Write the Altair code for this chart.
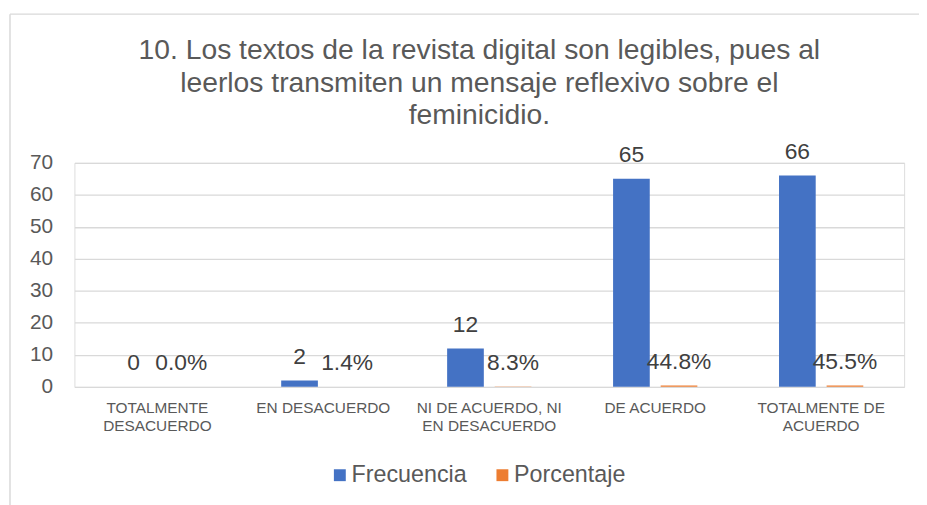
import altair as alt
import pandas as pd

categories = [
    "TOTALMENTE\nDESACUERDO",
    "EN DESACUERDO",
    "NI DE ACUERDO, NI\nEN DESACUERDO",
    "DE ACUERDO",
    "TOTALMENTE DE\nACUERDO",
]
series = ["Frecuencia", "Porcentaje"]
frecuencia = [0, 2, 12, 65, 66]
porcentaje = [0.0, 0.014, 0.083, 0.448, 0.455]

rows = []
for c, f, p in zip(categories, frecuencia, porcentaje):
    rows.append({"cat": c, "serie": "Frecuencia", "valor": f, "etiqueta": f"{f}"})
    rows.append({"cat": c, "serie": "Porcentaje", "valor": p, "etiqueta": f"{p*100:.1f}%"})
df = pd.DataFrame(rows)

FONT = "Liberation Sans"
TXT = "#595959"
GRID = "#D9D9D9"

W, H = 837, 226
PL, PT = 67, 154
PR = 919 - PL - W
PB = 497 - PT - H

x = alt.X("cat:N", sort=categories, title=None,
          scale=alt.Scale(paddingInner=0, paddingOuter=0),
          axis=alt.Axis(labelAngle=0, labelFontSize=15.5, labelColor=TXT, labelFont=FONT,
                        labelExpr="split(datum.label, '\\n')", labelLineHeight=18,
                        labelPadding=14, ticks=False, domain=False, labelLimit=200))
xo = alt.XOffset("serie:N", sort=series,
                 scale=alt.Scale(paddingInner=0.229, paddingOuter=0.858))
y = alt.Y("valor:Q", title=None,
          scale=alt.Scale(domain=[0, 70], nice=False),
          axis=alt.Axis(values=[0, 10, 20, 30, 40, 50, 60, 70], labelFontSize=21,
                        labelColor=TXT, labelFont=FONT, labelPadding=22, ticks=False,
                        domain=False, gridColor=GRID, gridWidth=1.3))

color = alt.Color("serie:N", sort=series,
                  scale=alt.Scale(domain=series, range=["#4472C4", "#ED7D31"]),
                  legend=alt.Legend(title=None, orient="none", legendX=256, legendY=303,
                                    direction="horizontal", symbolType="square",
                                    symbolSize=144, symbolStrokeWidth=0,
                                    labelFontSize=23.5, labelColor=TXT, labelFont=FONT,
                                    columnPadding=24, labelOffset=0, padding=0))

base = alt.Chart(df)
bars = base.mark_bar().encode(x=x, xOffset=xo, y=y, color=color)
labels = base.mark_text(fontSize=23, color="#404040", font=FONT, baseline="middle", dy=-24).encode(
    x=x, xOffset=xo, y=y, text="etiqueta:N")

frame_data = alt.Data(values=[{"k": 1}])
frame_top = alt.Chart(frame_data).mark_rule(color=GRID, strokeWidth=1.5).encode(
    x=alt.value(-65), x2=alt.value(W + PR + 5), y=alt.value(-150))
frame_left = alt.Chart(frame_data).mark_rule(color=GRID, strokeWidth=1.5).encode(
    x=alt.value(-65), y=alt.value(-150), y2=alt.value(H + PB + 5))

chart = alt.layer(frame_top, frame_left, bars, labels).properties(
    width=W, height=H,
    title=alt.TitleParams(
        text=["10. Los textos de la revista digital son legibles, pues al",
              "leerlos transmiten un mensaje reflexivo sobre el",
              "feminicidio."],
        fontSize=28.5, font=FONT, color=TXT, fontWeight="normal", lineHeight=32.5,
        anchor="middle", dx=-10, dy=149, offset=32, frame="group"),
    autosize=alt.AutoSizeParams(type="none"),
    padding={"left": PL, "top": PT, "right": PR, "bottom": PB},
).configure_view(stroke=None).configure(background="white")

chart.save("out.html", embed_options={"renderer": "svg", "actions": False})
